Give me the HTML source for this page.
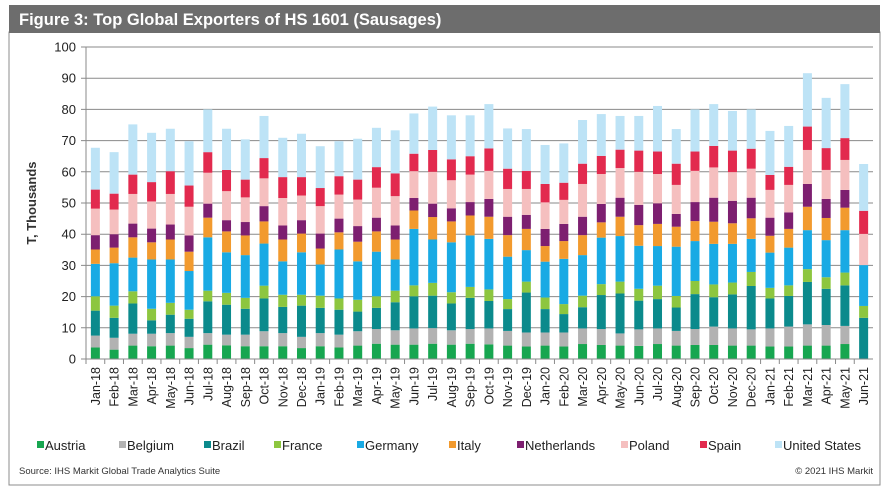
<!DOCTYPE html>
<html><head><meta charset="utf-8"><style>
body{margin:0;background:#fff;width:889px;height:493px;overflow:hidden;font-family:"Liberation Sans",Arial,sans-serif}
svg{display:block}
</style></head><body>
<svg id="c" width="889" height="493" xmlns="http://www.w3.org/2000/svg">
<rect x="9" y="32" width="871" height="453" fill="#fff" stroke="#8c8c8c" stroke-width="1"/>
<rect x="9" y="5" width="871" height="28" fill="#6d6d6d"/>
<text x="19" y="25" fill="#fff" font-size="16.5" font-weight="bold">Figure 3: Top Global Exporters of HS 1601 (Sausages)</text>
<text transform="translate(36,203) rotate(-90)" text-anchor="middle" font-size="13" font-weight="bold" fill="#333">T, Thousands</text>
<text x="19" y="474" font-size="9.5" fill="#333">Source: IHS Markit Global Trade Analytics Suite</text>
<text x="873" y="474" font-size="9.5" fill="#333" text-anchor="end">© 2021 IHS Markit</text>
<g id="grid"></g><g id="bars"></g><g id="axes"></g><g id="legend"></g>
</svg>
<script>
const categories=["Jan-18","Feb-18","Mar-18","Apr-18","May-18","Jun-18","Jul-18","Aug-18","Sep-18","Oct-18","Nov-18","Dec-18","Jan-19","Feb-19","Mar-19","Apr-19","May-19","Jun-19","Jul-19","Aug-19","Sep-19","Oct-19","Nov-19","Dec-19","Jan-20","Feb-20","Mar-20","Apr-20","May-20","Jun-20","Jul-20","Aug-20","Sep-20","Oct-20","Nov-20","Dec-20","Jan-21","Feb-21","Mar-21","Apr-21","May-21","Jun-21"];
const seriesNames=["Austria","Belgium","Brazil","France","Germany","Italy","Netherlands","Poland","Spain","United States"];
const seriesColors=["#17a650","#b2b2b2","#0b8a8c","#8dc63f","#19aae4","#f29a2e","#7d1f70","#f5bfbf","#e22a4e","#bde3f6"];
const austria=[3.7,3.0,4.3,4.1,4.3,3.5,4.6,4.4,4.1,4.1,4.1,3.5,4.1,3.7,4.3,4.9,4.6,4.6,4.9,4.6,4.9,4.7,4.3,4.0,4.3,4.0,4.8,4.5,4.3,4.2,4.8,4.3,4.5,4.5,4.3,4.3,4.0,4.0,4.3,4.3,4.8,0];
const belgium=[3.8,3.8,3.8,4.0,4.0,3.6,3.7,3.4,3.7,4.8,4.2,3.6,4.2,4.1,4.6,4.7,4.6,5.2,5.0,4.6,4.7,5.1,4.7,4.5,4.2,4.5,5.0,5.1,3.9,5.3,5.0,4.7,5.1,5.9,5.5,5.2,5.8,6.4,6.8,6.6,5.8,0];
const brazil=[8.0,6.4,9.7,4.3,5.9,5.8,10.2,9.6,8.3,10.5,8.4,10.0,8.1,8.0,6.3,6.8,9.0,10.3,10.4,8.6,10.0,8.8,7.0,12.8,7.5,5.9,6.8,10.9,12.8,9.2,9.4,7.5,11.2,9.4,10.9,13.9,9.6,9.8,13.6,11.6,13.0,13.2];
const france=[4.6,3.9,3.9,3.7,3.8,2.9,3.4,3.8,3.5,4.1,3.9,3.5,3.9,3.6,3.8,3.7,3.7,3.5,4.1,3.6,3.5,3.7,3.2,3.5,3.7,3.2,3.7,3.5,3.8,3.8,4.3,3.7,4.2,4.1,3.8,4.5,3.4,3.4,4.1,3.7,4.1,3.8];
const germany=[10.4,13.6,10.8,15.8,13.9,12.4,17.1,13.0,13.7,13.5,10.7,13.6,10.0,15.7,12.3,14.3,10.0,18.1,13.9,16.0,16.5,16.2,13.6,10.1,11.5,14.5,13.0,14.9,14.6,13.8,12.7,15.8,12.8,13.0,12.4,10.6,11.3,12.1,12.5,11.9,13.6,13.1];
const italy=[4.6,5.0,6.5,5.5,6.4,6.2,6.3,6.7,6.3,7.1,7.0,6.0,5.1,5.5,6.3,6.5,6.4,5.9,7.2,6.7,6.4,7.1,6.9,6.8,5.0,5.7,6.4,4.9,6.2,6.6,7.1,6.4,6.4,7.1,6.6,6.6,5.4,6.0,7.5,7.1,7.2,0];
const netherlands=[4.6,4.3,4.4,4.4,4.8,5.2,4.5,3.6,4.3,4.9,4.5,4.3,4.8,4.4,5.0,4.4,4.5,4.0,4.3,4.2,4.3,5.7,5.9,4.5,5.5,5.5,5.9,5.9,6.1,6.5,6.6,4.1,6.1,7.7,7.2,6.6,5.8,5.3,7.3,6.1,5.7,0];
const poland=[8.5,7.9,9.5,8.7,9.8,9.2,9.9,9.3,7.9,8.9,8.8,7.9,8.8,7.7,8.5,9.6,9.4,8.6,10.2,9.0,8.8,9.0,8.9,8.3,8.5,7.7,10.5,9.6,9.5,10.6,9.4,9.3,10.0,9.7,9.2,9.3,8.9,8.8,10.9,9.3,9.6,10.0];
const spain=[6.1,5.1,6.2,6.2,7.3,6.8,6.6,6.8,5.7,6.5,6.7,5.9,5.8,5.9,6.4,6.6,7.3,5.6,7.0,6.7,5.9,7.2,6.5,5.8,5.9,5.5,6.5,5.8,5.9,6.8,7.2,6.8,6.2,6.9,6.9,6.4,4.8,5.8,7.5,7.0,7.0,7.4];
const unitedStates=[13.4,13.3,16.1,15.8,13.6,14.2,13.7,13.2,12.9,13.5,12.6,13.9,13.4,11.2,13.1,12.6,13.8,12.9,13.9,14.1,13.1,14.2,12.9,13.4,12.5,12.6,14.0,13.4,10.8,11.1,14.6,11.1,13.5,13.4,12.7,12.6,14.1,13.1,17.1,16.1,17.3,15.0];
const yTicks=[0,10,20,30,40,50,60,70,80,90,100];
const seriesData=[austria,belgium,brazil,france,germany,italy,netherlands,poland,spain,unitedStates];

const NS="http://www.w3.org/2000/svg";
const X0=86,X1=873,Y0=359,Y1=47,YMAX=100;
const step=(X1-X0)/categories.length;
function yScale(v){return Y0-(v/YMAX)*(Y0-Y1);}
function xCenter(i){return X0+step*(i+0.5);}
function mk(tag,attrs,parent){const e=document.createElementNS(NS,tag);for(const k in attrs)e.setAttribute(k,attrs[k]);parent.appendChild(e);return e;}
const grid=document.getElementById('grid'),bars=document.getElementById('bars'),axes=document.getElementById('axes'),legend=document.getElementById('legend');
yTicks.forEach(t=>{
  const l=mk('line',{x1:X0-5,x2:X1,y1:yScale(t),y2:yScale(t),stroke:'#8a8a8a','stroke-width':1},grid);
  
  
  const tx=mk('text',{x:X0-10,y:yScale(t)+4.5,'text-anchor':'end','font-size':13,fill:'#222'},axes);
  tx.textContent=t;
  
  
});
const bw=9;
categories.forEach((c,i)=>{
  let cum=0;
  seriesData.forEach((s,k)=>{
    const v=s[i];
    if(v>0){
      const r=mk('rect',{x:xCenter(i)-bw/2,y:yScale(cum+v),width:bw,height:yScale(cum)-yScale(cum+v),fill:seriesColors[k]},bars);
      
      
    }
    cum+=v;
  });
  const tk=mk('line',{x1:X0+step*i,x2:X0+step*i,y1:Y0,y2:Y0+5,stroke:'#8a8a8a'},axes);
  
  
  const lb=mk('text',{transform:'translate('+(xCenter(i)+4.5)+','+(Y0+8)+') rotate(-90)','text-anchor':'end','font-size':12.5,fill:'#222'},axes);
  lb.textContent=c;
  
  
});
const ax=mk('line',{x1:X0,x2:X0,y1:Y1,y2:Y0,stroke:'#8a8a8a'},axes);


const xa=mk('line',{x1:X0,x2:X1,y1:Y0,y2:Y0,stroke:'#8a8a8a'},axes);


const legX=[37,119,204,274,357,449,517,621,700,775];
seriesNames.forEach((n,k)=>{
  const g=mk('g',{},legend);
  
  
  mk('rect',{x:legX[k],y:441,width:7,height:7,fill:seriesColors[k]},g);
  const t=mk('text',{x:legX[k]+8,y:450,'font-size':13,fill:'#222'},g);
  t.textContent=n;
});
</script>
</body></html>
